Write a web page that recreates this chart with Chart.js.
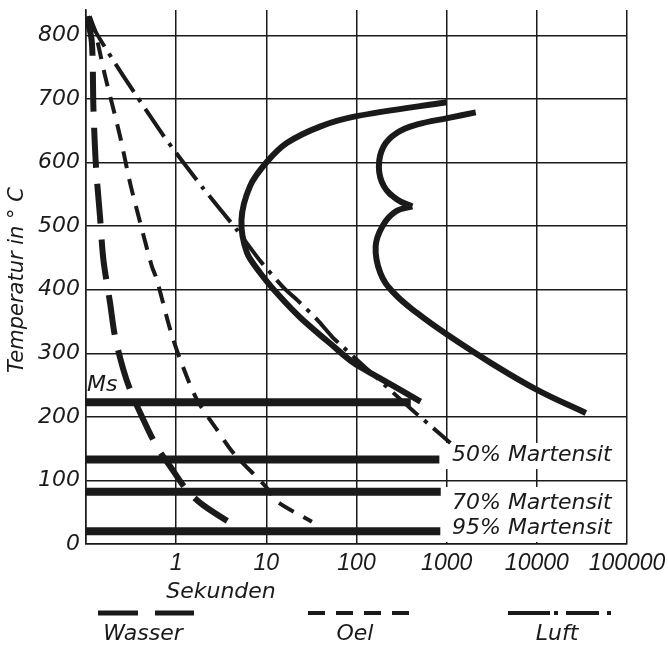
<!DOCTYPE html>
<html>
<head>
<meta charset="utf-8">
<script src="https://cdn.jsdelivr.net/npm/chart.js@4.4.1/dist/chart.umd.min.js"></script>
<style>
  body { margin: 0; background: #fff; }
  canvas { display: block; }
</style>
</head>
<body>
<canvas id="ttt" width="668" height="646"></canvas>
<script>
// Zeit in Sekunden (log), Temperatur in °C
const xTicks = [0.1, 1, 10, 100, 1000, 10000, 100000];
const yTicks = [0, 100, 200, 300, 400, 500, 600, 700, 800];

// Abkuehlkurven [s, °C]
const wasser = [[0.102, 830], [0.116, 790], [0.121, 683], [0.129, 594], [0.143, 515], [0.156, 447],
  [0.185, 379], [0.21, 326], [0.26, 274], [0.31, 242], [0.4, 206], [0.61, 153], [0.86, 122],
  [1.31, 85], [2.0, 61], [4.8, 26]];
const oel = [[0.105, 830], [0.126, 805], [0.163, 736], [0.239, 641], [0.308, 568], [0.4, 505],
  [0.537, 437], [0.61, 416], [0.86, 337], [1.11, 290], [1.7, 227], [2.83, 180], [4.33, 143],
  [9.9, 90], [13.1, 67], [32, 35]];
const luft = [[0.11, 830], [0.13, 804], [0.26, 736], [0.71, 644], [1.0, 615], [1.98, 560],
  [4.72, 494], [8.58, 445], [15.6, 403], [21.9, 384], [36.6, 353], [53.7, 326], [69.5, 311],
  [413, 211], [559, 195], [1100, 159]];

// Umwandlungsbeginn / -ende
const beginn = [[1000, 695], [100, 673], [40, 657], [17, 631], [10, 600], [6.6, 563], [5.3, 510],
  [6.1, 458], [8.6, 426], [13.6, 392], [23.9, 356], [55.5, 311], [92.6, 285], [171, 263], [514, 224]];
const endeOben = [[2100, 679], [1020, 670], [473, 660], [282, 647], [201, 626], [177, 594],
  [201, 563], [282, 542], [415, 531]];
const endeUnten = [[415, 531], [272, 523], [194, 500], [163, 468], [184, 426], [259, 395],
  [473, 363], [1020, 329], [3080, 285], [10200, 242], [35000, 206]];

// Martensit-Linien
const msLine = [[0.1, 223], [400, 223]];
const m50 = [[0.1, 133], [830, 133]];
const m70 = [[0.1, 82], [860, 82]];
const m95 = [[0.1, 20], [850, 20]];

const INK = '#1a1a1a';
const FONT = '"DejaVu Sans", sans-serif';
const FONT_X = '"Liberation Sans", Arial, sans-serif';

const pts = arr => arr.map(p => ({ x: p[0], y: p[1] }));

function curve(data, width, dash, tension) {
  return {
    data: pts(data),
    showLine: true,
    borderColor: INK,
    borderWidth: width,
    borderDash: dash || [],
    tension: tension || 0,
    pointRadius: 0,
    borderCapStyle: 'butt',
    borderJoinStyle: 'round'
  };
}

const labelPlugin = {
  id: 'labels',
  beforeDatasetsDraw(chart) {
    const { ctx } = chart;
    // weisse Felder hinter den Martensit-Beschriftungen
    ctx.save();
    ctx.fillStyle = '#fff';
    ctx.fillRect(444, 443, 178, 26);
    ctx.fillRect(444, 487, 178, 55);
    ctx.restore();
  },
  afterDraw(chart) {
    const { ctx } = chart;
    const y = chart.scales.y;
    ctx.save();
    ctx.fillStyle = INK;
    ctx.font = 'oblique 22px ' + FONT;
    ctx.textBaseline = 'middle';
    ctx.textAlign = 'left';
    ctx.fillText('Ms', 87, y.getPixelForValue(250));
    ctx.fillText('50% Martensit', 452, y.getPixelForValue(140));
    ctx.fillText('70% Martensit', 452, y.getPixelForValue(64));
    ctx.fillText('95% Martensit', 452, y.getPixelForValue(25));

    ctx.textAlign = 'center';
    ctx.fillText('Sekunden', 221, 592);
    ctx.fillText('Wasser', 143, 634);
    ctx.fillText('Oel', 355, 634);
    ctx.fillText('Luft', 557, 634);

    ctx.save();
    ctx.font = 'oblique 21px ' + FONT;
    ctx.translate(18, 280);
    ctx.rotate(-Math.PI / 2);
    ctx.fillText('Temperatur in ° C', 0, 0);
    ctx.restore();

    // Legende
    ctx.strokeStyle = INK;
    ctx.lineWidth = 5;
    ctx.setLineDash([40, 17]);
    ctx.beginPath(); ctx.moveTo(98, 613); ctx.lineTo(194, 613); ctx.stroke();
    ctx.lineWidth = 4;
    ctx.setLineDash([17, 11]);
    ctx.beginPath(); ctx.moveTo(308, 613); ctx.lineTo(410, 613); ctx.stroke();
    ctx.setLineDash([42, 4, 4, 8, 33, 8, 4, 8]);
    ctx.beginPath(); ctx.moveTo(508, 613); ctx.lineTo(612, 613); ctx.stroke();
    ctx.restore();
  }
};

new Chart(document.getElementById('ttt'), {
  type: 'scatter',
  data: {
    datasets: [
      curve(wasser, 6, [40, 16], 0.3),
      curve(oel, 4, [17, 11], 0.3),
      curve(luft, 4, [34, 8, 4, 8], 0.2),
      curve(beginn, 6, null, 0.3),
      curve(endeOben, 6, null, 0.4),
      curve(endeUnten, 6, null, 0.4),
      curve(msLine, 8),
      curve(m50, 8),
      curve(m70, 8),
      curve(m95, 8)
    ]
  },
  options: {
    responsive: false,
    animation: false,
    layout: { padding: { left: 0, top: 10, right: 41, bottom: 0 } },
    plugins: { legend: { display: false }, tooltip: { enabled: false } },
    scales: {
      x: {
        type: 'logarithmic',
        min: 0.1,
        max: 100000,
        afterBuildTicks: s => { s.ticks = xTicks.map(v => ({ value: v })); },
        afterFit: s => { s.height = 102; s.paddingLeft = 0; s.paddingRight = 0; },
        grid: { color: INK, lineWidth: 1.5, drawTicks: false },
        border: { color: INK, width: 1.5 },
        ticks: {
          color: INK,
          padding: 6,
          maxRotation: 0,
          autoSkip: false,
          font: { family: FONT_X, size: 23, style: 'italic' },
          callback: v => (v < 1 ? '' : String(v))
        }
      },
      y: {
        min: 0,
        max: 840,
        afterBuildTicks: s => { s.ticks = yTicks.map(v => ({ value: v })); },
        afterFit: s => { s.width = 86; s.paddingTop = 0; s.paddingBottom = 0; },
        grid: { color: INK, lineWidth: 1.5, drawTicks: false },
        border: { color: INK, width: 1.5 },
        ticks: {
          color: INK,
          padding: 6,
          font: { family: FONT, size: 22, style: 'oblique' }
        }
      }
    }
  },
  plugins: [labelPlugin]
});
</script>
</body>
</html>
